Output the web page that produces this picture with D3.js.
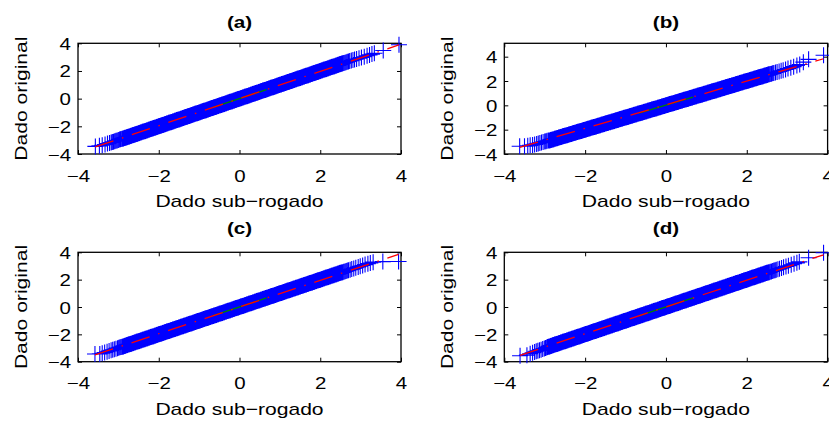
<!DOCTYPE html>
<html><head><meta charset="utf-8">
<script src="https://cdn.jsdelivr.net/npm/d3@7"></script>
<style>
body{margin:0;background:#fff}
text{font-family:"Liberation Sans",Arial,Helvetica,sans-serif;fill:#000}
</style>
</head><body>
<svg id="chart" width="829" height="423"></svg>
<script>
// ---------- data ----------
const titulos = ["(a)", "(b)", "(c)", "(d)"];
const rotuloX = "Dado sub−rogado";
const rotuloY = "Dado original";
const xDominio = [-4, 4];
const yDominios = [[-4, 4], [-4, 5.1], [-4, 4], [-4, 4]];
const xTicks = [-4, -2, 0, 2, 4];
const yTicks = [-4, -2, 0, 2, 4];

// dense core of the quantile-quantile cloud (sub-rogado quantile = original quantile)
const nucleo = [
-2.90,-2.88,-2.85,-2.83,-2.80,-2.78,-2.75,-2.73,-2.70,-2.68,-2.65,-2.63,
-2.60,-2.58,-2.55,-2.53,-2.50,-2.48,-2.45,-2.43,-2.40,-2.38,-2.35,-2.33,
-2.30,-2.28,-2.25,-2.23,-2.20,-2.18,-2.15,-2.13,-2.10,-2.08,-2.05,-2.03,
-2.00,-1.98,-1.95,-1.93,-1.90,-1.88,-1.85,-1.83,-1.80,-1.78,-1.75,-1.73,
-1.70,-1.68,-1.65,-1.63,-1.60,-1.58,-1.55,-1.53,-1.50,-1.48,-1.45,-1.43,
-1.40,-1.38,-1.35,-1.33,-1.30,-1.28,-1.25,-1.23,-1.20,-1.18,-1.15,-1.13,
-1.10,-1.08,-1.05,-1.03,-1.00,-0.98,-0.95,-0.93,-0.90,-0.88,-0.85,-0.83,
-0.80,-0.78,-0.75,-0.73,-0.70,-0.68,-0.65,-0.63,-0.60,-0.58,-0.55,-0.53,
-0.50,-0.48,-0.45,-0.43,-0.40,-0.38,-0.35,-0.33,-0.30,-0.28,-0.25,-0.23,
-0.20,-0.18,-0.15,-0.13,-0.10,-0.08,-0.05,-0.03,
0.00,0.03,0.05,0.08,0.10,0.13,0.15,0.18,0.20,0.23,0.25,0.28,
0.30,0.33,0.35,0.38,0.40,0.43,0.45,0.48,0.50,0.53,0.55,0.58,
0.60,0.63,0.65,0.68,0.70,0.73,0.75,0.78,0.80,0.83,0.85,0.88,
0.90,0.93,0.95,0.98,1.00,1.03,1.05,1.08,1.10,1.13,1.15,1.18,
1.20,1.23,1.25,1.28,1.30,1.33,1.35,1.38,1.40,1.43,1.45,1.48,
1.50,1.53,1.55,1.58,1.60,1.63,1.65,1.68,1.70,1.73,1.75,1.78,
1.80,1.83,1.85,1.88,1.90,1.93,1.95,1.98,2.00,2.03,2.05,2.08,
2.10,2.13,2.15,2.18,2.20,2.23,2.25,2.28,2.30,2.33,2.35,2.38,
2.40,2.43,2.45,2.48,2.50,2.53,2.55
];

// sparse tails: [sub-rogado, original]
const caudaA = [
[-3.57,-3.45],[-3.47,-3.41],[-3.40,-3.37],[-3.33,-3.31],[-3.27,-3.25],[-3.22,-3.20],[-3.18,-3.17],
[-3.15,-3.14],[-3.12,-3.11],[-3.09,-3.08],[-3.06,-3.05],[-3.03,-3.02],[-3.00,-2.99],[-2.97,-2.96],
[-2.95,-2.94],[-2.93,-2.92],
[2.58,2.57],[2.61,2.60],[2.64,2.63],[2.67,2.66],[2.70,2.69],[2.73,2.72],[2.77,2.75],[2.81,2.79],
[2.85,2.83],[2.90,2.87],[2.96,2.92],[3.02,2.97],[3.09,3.03],[3.16,3.10],[3.22,3.16],[3.28,3.22],
[3.34,3.28],[3.56,3.48],[3.95,3.90]
];
const caudaB = [
[-3.62,-3.36],[-3.50,-3.36],[-3.42,-3.33],[-3.36,-3.29],[-3.30,-3.25],[-3.25,-3.21],[-3.20,-3.17],
[-3.16,-3.13],[-3.12,-3.09],[-3.08,-3.05],[-3.04,-3.01],[-3.00,-2.98],[-2.97,-2.95],[-2.94,-2.92],
[2.58,2.57],[2.61,2.60],[2.64,2.63],[2.67,2.66],[2.71,2.70],[2.75,2.74],[2.80,2.79],[2.85,2.84],
[2.90,2.89],[2.96,2.95],[3.02,3.02],[3.09,3.10],[3.16,3.18],[3.24,3.27],[3.31,3.36],[3.40,3.55],
[3.53,3.78],[3.90,4.12]
];
const caudaC = [
[-3.58,-3.44],[-3.46,-3.43],[-3.40,-3.38],[-3.34,-3.33],[-3.28,-3.27],[-3.23,-3.22],[-3.18,-3.17],
[-3.14,-3.13],[-3.10,-3.09],[-3.06,-3.05],[-3.02,-3.01],[-2.99,-2.98],[-2.96,-2.95],[-2.93,-2.92],
[2.58,2.57],[2.61,2.60],[2.64,2.63],[2.67,2.66],[2.70,2.69],[2.74,2.73],[2.78,2.77],[2.83,2.82],
[2.88,2.87],[2.94,2.93],[2.99,2.98],[3.05,3.04],[3.11,3.10],[3.18,3.17],[3.24,3.22],[3.31,3.28],
[3.55,3.32],[3.94,3.33]
];
const caudaD = [
[-3.61,-3.56],[-3.44,-3.52],[-3.36,-3.42],[-3.30,-3.35],[-3.25,-3.29],[-3.21,-3.24],[-3.17,-3.20],
[-3.13,-3.16],[-3.09,-3.12],[-3.05,-3.08],[-3.01,-3.04],[-2.98,-3.00],[-2.95,-2.96],[-2.93,-2.93],
[2.58,2.57],[2.61,2.60],[2.64,2.63],[2.67,2.66],[2.70,2.69],[2.73,2.72],[2.77,2.76],[2.81,2.80],
[2.86,2.85],[2.91,2.90],[2.97,2.96],[3.03,3.02],[3.10,3.09],[3.17,3.16],[3.24,3.23],[3.30,3.30],
[3.53,3.60],[3.90,3.97]
];

// reference line (dash-dot, red) from min to max, and quartile segment (green)
const retaA = [[-3.57,-3.49],[3.95,3.88]];
const retaB = [[-3.62,-3.46],[3.90,3.83]];
const retaC = [[-3.58,-3.50],[3.94,3.85]];
const retaD = [[-3.61,-3.53],[3.90,3.82]];
const quartisA = [[-0.67,-0.65],[0.67,0.66]];
const quartisB = [[-0.67,-0.64],[0.67,0.68]];
const quartisC = [[-0.67,-0.65],[0.67,0.66]];
const quartisD = [[-0.67,-0.65],[0.67,0.66]];

// ---------- layout ----------
const layout = [
  {x0:78,   x1:401,   y0:43.3,  y1:154,   tY:21.7,  ylX:21.7},
  {x0:504.3,x1:827.6, y0:43.3,  y1:154,   tY:21.7,  ylX:447.3},
  {x0:78,   x1:401,   y0:252.3, y1:361.7, tY:228.3, ylX:21.7},
  {x0:504.3,x1:827.6, y0:252.3, y1:361.7, tY:228.3, ylX:447.3}
];
const caudas = [caudaA, caudaB, caudaC, caudaD];
const retas = [retaA, retaB, retaC, retaD];
const quartis = [quartisA, quartisB, quartisC, quartisD];

const svg = d3.select("#chart");
const STRETCH = 1.24;
function stretch(sel, k){
  sel.each(function(){
    const L = this.getComputedTextLength();
    d3.select(this).attr("textLength", L*k).attr("lengthAdjust","spacingAndGlyphs");
  });
}
const fmt = d => (d < 0 ? "\u2212" + Math.abs(d) : String(d));
const H = 8;

layout.forEach((L, i) => {
  const x = d3.scaleLinear().domain(xDominio).range([L.x0, L.x1]);
  const y = d3.scaleLinear().domain(yDominios[i]).range([L.y1, L.y0]);
  const g = svg.append("g");

  // axes (inward ticks on all four sides)
  const tickStyle = a => { a.select(".domain").remove(); a.selectAll(".tick line").attr("stroke","#000").attr("stroke-width",1); };
  const ab = g.append("g").attr("transform",`translate(0,${L.y1})`)
    .call(d3.axisBottom(x).tickValues(xTicks).tickFormat(fmt).tickSizeInner(-4).tickSizeOuter(0));
  tickStyle(ab);
  ab.selectAll(".tick text").attr("y",21.7).attr("dy",null).attr("dominant-baseline","central")
    .attr("font-size",16.5).attr("font-family",null);
  const at = g.append("g").attr("transform",`translate(0,${L.y0})`)
    .call(d3.axisTop(x).tickValues(xTicks).tickFormat("").tickSizeInner(-4).tickSizeOuter(0));
  tickStyle(at);
  const al = g.append("g").attr("transform",`translate(${L.x0},0)`)
    .call(d3.axisLeft(y).tickValues(yTicks).tickFormat(fmt).tickSizeInner(-4).tickSizeOuter(0));
  tickStyle(al);
  al.selectAll(".tick text").attr("x",-7).attr("dy",null).attr("dominant-baseline","central")
    .attr("font-size",16.5).attr("font-family",null);
  const ar = g.append("g").attr("transform",`translate(${L.x1},0)`)
    .call(d3.axisRight(y).tickValues(yTicks).tickFormat("").tickSizeInner(-4).tickSizeOuter(0));
  tickStyle(ar);
  [ab, al].forEach(a => stretch(a.selectAll(".tick text"), STRETCH));

  // frame
  g.append("rect").attr("x",L.x0).attr("y",L.y0).attr("width",L.x1-L.x0).attr("height",L.y1-L.y0)
    .attr("fill","none").attr("stroke","#000").attr("stroke-width",1.3);

  // markers '+'
  const cross = p => {
    const px = x(p[0]), py = y(p[1]);
    return `M${px-H},${py}H${px+H}M${px},${py-H}V${py+H}`;
  };
  g.append("path")
    .attr("d", nucleo.map(v => cross([v, v])).join(""))
    .attr("fill","none").attr("stroke","#0000ff").attr("stroke-width",1.8);
  g.append("path")
    .attr("d", caudas[i].map(cross).join(""))
    .attr("fill","none").attr("stroke","#0000ff").attr("stroke-width",1.1);

  const line = d3.line().x(d => x(d[0])).y(d => y(d[1]));
  // quartile segment (green, solid)
  g.append("path").attr("d", line(quartis[i])).attr("fill","none")
    .attr("stroke","#008000").attr("stroke-width",1.3);
  // reference line (red, dash-dot)
  g.append("path").attr("d", line(retas[i])).attr("fill","none")
    .attr("stroke","#ff0000").attr("stroke-width",1.3).attr("stroke-dasharray","19,9,1.5,9");

  // titles and labels
  const t = g.append("text").attr("x",(L.x0+L.x1)/2).attr("y",L.tY).attr("text-anchor","middle")
    .attr("dominant-baseline","central").attr("font-size",16.5).attr("font-weight","bold").text(titulos[i]);
  stretch(t, 1.25);
  const xl = g.append("text").attr("x",(L.x0+L.x1)/2).attr("y",L.y1+47.7).attr("text-anchor","middle")
    .attr("dominant-baseline","central").attr("font-size",17).text(rotuloX);
  stretch(xl, STRETCH);
  const yl = g.append("text").attr("transform",`translate(${L.ylX},${(L.y0+L.y1)/2}) rotate(-90)`)
    .attr("text-anchor","middle").attr("dominant-baseline","central").attr("font-size",17).text(rotuloY);
  stretch(yl, STRETCH);
});
</script>
</body></html>
